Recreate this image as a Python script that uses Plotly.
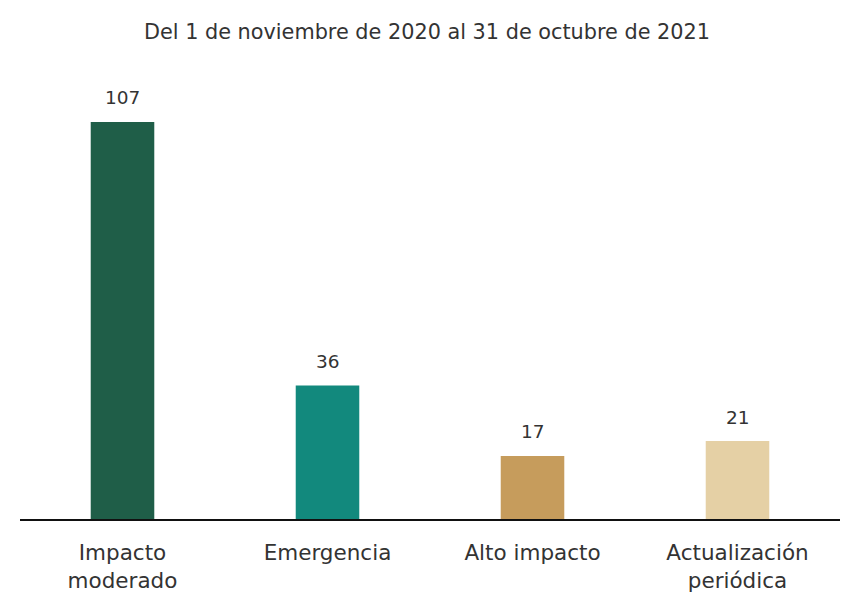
import plotly.graph_objects as go

# Periodo reportado y conteos por tipo
titulo = "Del 1 de noviembre de 2020 al 31 de octubre de 2021"
categorias = ["Impacto<br>moderado", "Emergencia", "Alto impacto", "Actualización<br>periódica"]
valores = [107, 36, 17, 21]
colores = ["#1f5e48", "#12897d", "#c69c5c", "#e5d0a5"]

FUENTE = "DejaVu Sans, Noto Sans, sans-serif"
TEXTO = "#333333"

fig = go.Figure(
    go.Bar(
        x=categorias,
        y=valores,
        marker=dict(color=colores, line=dict(width=0)),
        width=0.31,
        hoverinfo="x+y",
    )
)

# Etiquetas de valor sobre cada barra
for cat, val in zip(categorias, valores):
    fig.add_annotation(
        x=cat,
        y=val,
        text=str(val),
        showarrow=False,
        yanchor="middle",
        yshift=24,
        font=dict(family=FUENTE, size=18.5, color=TEXTO),
    )

fig.update_layout(
    width=854,
    height=596,
    margin=dict(l=20, r=14, t=80, b=77),
    paper_bgcolor="white",
    plot_bgcolor="white",
    showlegend=False,
    bargap=0.69,
    title=dict(
        text=titulo,
        x=0.5,
        xanchor="center",
        y=1 - 32 / 596,
        yanchor="middle",
        font=dict(family=FUENTE, size=20.8, color=TEXTO),
    ),
    xaxis=dict(
        showline=True,
        linecolor="#111111",
        linewidth=1.5,
        ticks="",
        showgrid=False,
        automargin=False,
        ticklabelstandoff=13,
        tickfont=dict(family=FUENTE, size=21.5, color=TEXTO),
    ),
    yaxis=dict(
        range=[0, 118.3],
        visible=False,
        showgrid=False,
        zeroline=False,
    ),
)

fig.write_html("out.html")
